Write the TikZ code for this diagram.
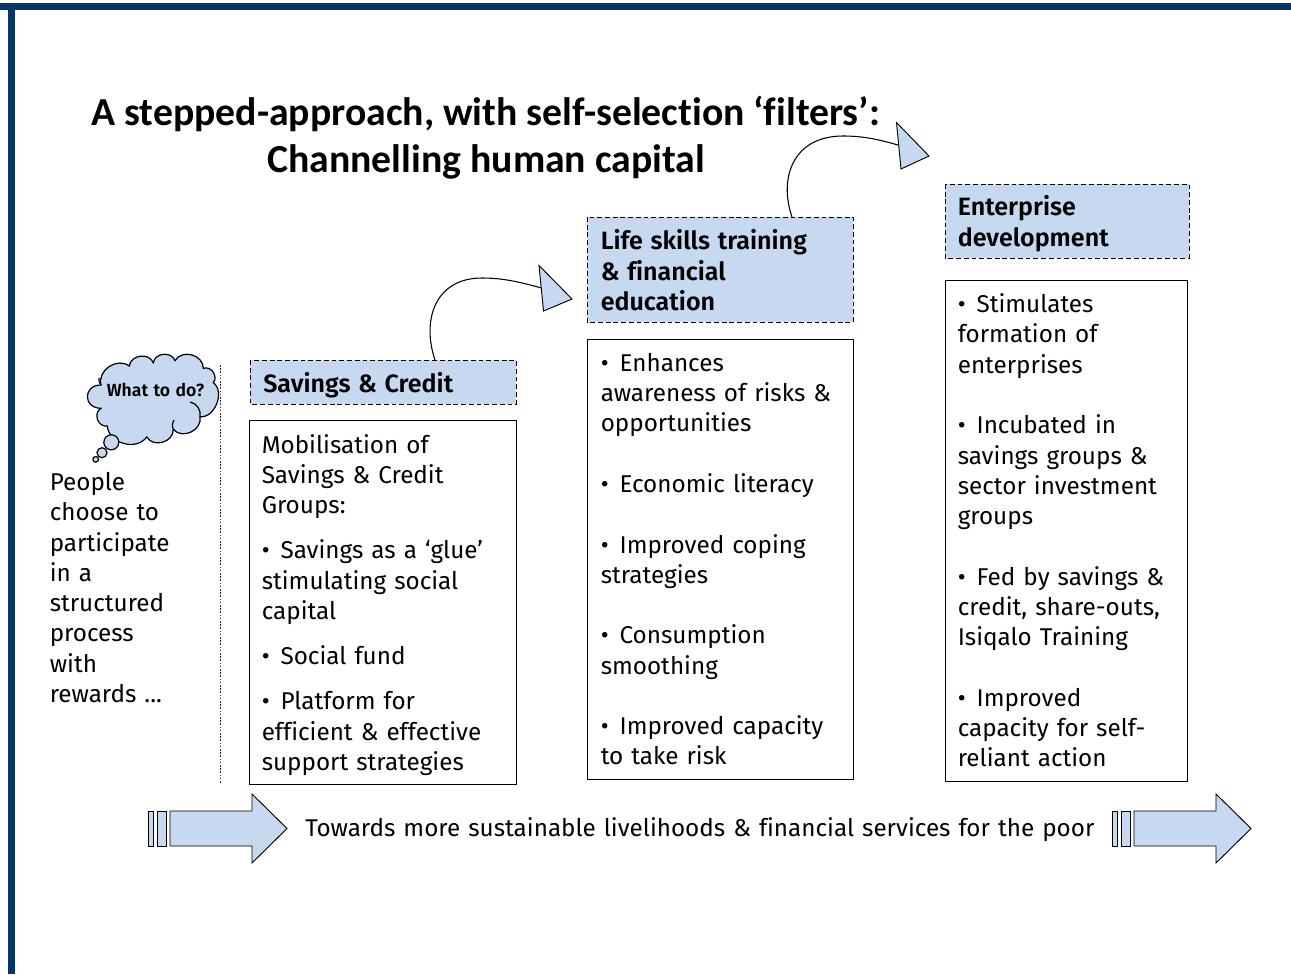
\documentclass[tikz,border=0pt]{standalone}
\usepackage{fontspec}
\setmainfont[Ligatures=NoCommon,WordSpace=1.25,BoldFont={Fira Sans SemiBold}]{Fira Sans}
\newfontfamily\titlefont[Ligatures=NoCommon]{Carlito}
\definecolor{navy}{HTML}{063567}
\definecolor{pale}{HTML}{C6D9F1}
\newcommand{\bd}{\fontsize{18.2}{22.7}\selectfont}
\newcommand{\bh}{\fontsize{18.8}{22.7}\selectfont}
\newcommand{\bl}{•\kern2.2pt\ }
\tikzset{
  x=0.75pt,y=-0.75pt,
  hdr/.style={draw,dash pattern=on 3.6pt off 2.2pt,fill=pale,line width=0.75pt},
  bx/.style={draw,line width=0.75pt,fill=white},
  txt/.style={anchor=north west,inner sep=0pt,align=left,font=\bd},
  hd/.style={txt,font=\bh\bfseries},
  ttl/.style={inner sep=0pt,font=\titlefont\fontsize{29.8}{35}\selectfont\bfseries},
  blk/.style={draw,fill=pale,line width=0.7pt},
  conn/.style={draw,line width=0.8pt},
}
\begin{document}
\begin{tikzpicture}
\useasboundingbox (0,0) rectangle (1291,974);
\fill[navy] (0,3) rectangle (1291,10);
\fill[navy] (8,3) rectangle (15,974);
% title
\node[ttl,anchor=base west] (t1) at (91,125) {A stepped-approach, with self-selection ‘filters’:};
\node[ttl,anchor=base west] (t2) at (267,172) {Channelling human capital};
% headers and boxes
\draw[hdr] (250,360) rectangle (516,404);
\coordinate (h1) at (435,360);
\node[hd] (n1) at (263,372.5) {Savings \& Credit};
\draw[bx] (249,420) rectangle (516,784);
\node[txt] (b1) at (261.5,434) {Mobilisation of\\Savings \& Credit\\Groups:\\[11.2pt]
\bl Savings as a ‘glue’\\stimulating social\\capital\\[11.2pt]
\bl Social fund\\[11.2pt]
\bl Platform for\\efficient \& effective\\support strategies};
\draw[hdr] (587,217) rectangle (853,322);
\coordinate (h2) at (792,217);
\node[hd] (n2) at (600.5,229.5) {Life skills training\\\& financial\\education};
\draw[bx] (587,339) rectangle (853,779);
\node[txt] (b2) at (600.5,353) {\bl Enhances\\awareness of risks \&\\opportunities\\[22.7pt]
\bl Economic literacy\\[22.7pt]
\bl Improved coping\\strategies\\[22.7pt]
\bl Consumption\\smoothing\\[22.7pt]
\bl Improved capacity\\to take risk};
\draw[hdr] (945,184) rectangle (1189,258);
\node[hd] (n3) at (957.5,195.5) {Enterprise\\development};
\draw[bx] (945,280) rectangle (1187,781);
\node[txt] (b3) at (957.5,293.5) {\bl Stimulates\\formation of\\enterprises\\[22.7pt]
\bl Incubated in\\savings groups \&\\sector investment\\groups\\[22.7pt]
\bl Fed by savings \&\\credit, share-outs,\\Isiqalo Training\\[22.7pt]
\bl Improved\\capacity for self-\\reliant action};
% curved arrows
\coordinate (e1) at (541.5,288);
\draw[conn] (h1) .. controls (421.5,320) and (435,278) .. (482,278) .. controls (505,278) and (523,283) .. (e1);
\draw[blk] (539,265.5) -- (572,299) -- (543.5,311) -- cycle;
\coordinate (e2) at (898,145);
\draw[conn] (h2) .. controls (778.5,178) and (793,136) .. (843,136) .. controls (865,136) and (880,140) .. (e2);
\draw[blk] (896.5,122.5) -- (929,156) -- (901,169) -- cycle;
% thought cloud
\draw[blk,line width=0.9pt] (101,385) to[bend left=70,looseness=1.15] (129.3,366) to[bend left=75,looseness=1.2] (153.3,362.7) to[bend left=75,looseness=1.2] (175,360.7)
  to[bend left=75,looseness=1.2] (203.3,368.3) to[bend left=75,looseness=1.2] (213.3,382.7) to[bend left=75,looseness=1.05] (200,416.7)
  to[bend left=75,looseness=1.2] (173.3,429.3) to[bend left=75,looseness=1.2] (146.7,437) to[bend left=70,looseness=1.1] (107.3,426)
  to[bend left=80,looseness=1.3] (101,408.3) to[bend left=90,looseness=2] cycle;
\draw[line width=0.9pt] (101,385) to[bend left=25] (99,378);
\draw[line width=0.9pt] (190,402) to[bend left=45] (200,416.7);
\draw[line width=0.9pt] (173.3,429.3) to[bend left=25] (174,420);
\draw[blk,line width=0.9pt] (111.3,442.3) circle[radius=7.5];
\draw[blk,line width=0.9pt] (102,452.7) circle[radius=5];
\draw[blk,line width=0.9pt] (95.7,459.3) circle[radius=2.8];
\node[inner sep=0pt,font=\fontsize{13.2}{15}\selectfont\bfseries] (w) at (155.5,390) {What to do?};
% left text
\node[txt] (p) at (49.5,472) {People\\choose to\\participate\\in a\\structured\\process\\with\\rewards ...};
\draw[dash pattern=on 1.2pt off 1.2pt,line width=0.7pt,black!85] (220,365) -- (220,783);
% block arrows
\foreach \d in {0,964}{
  \begin{scope}[xshift=\d*0.75pt]
  \draw[blk] (148,811) rectangle (153,846);
  \draw[blk] (157,811) rectangle (166,846);
  \draw[blk] (170,811) -- (252,811) -- (252,794) -- (287,828.5) -- (252,863) -- (252,846) -- (170,846) -- cycle;
  \end{scope}
}
\node[txt,anchor=base west] (tw) at (305,836) {Towards more sustainable livelihoods \& financial services for the poor};
\end{tikzpicture}
\end{document}
